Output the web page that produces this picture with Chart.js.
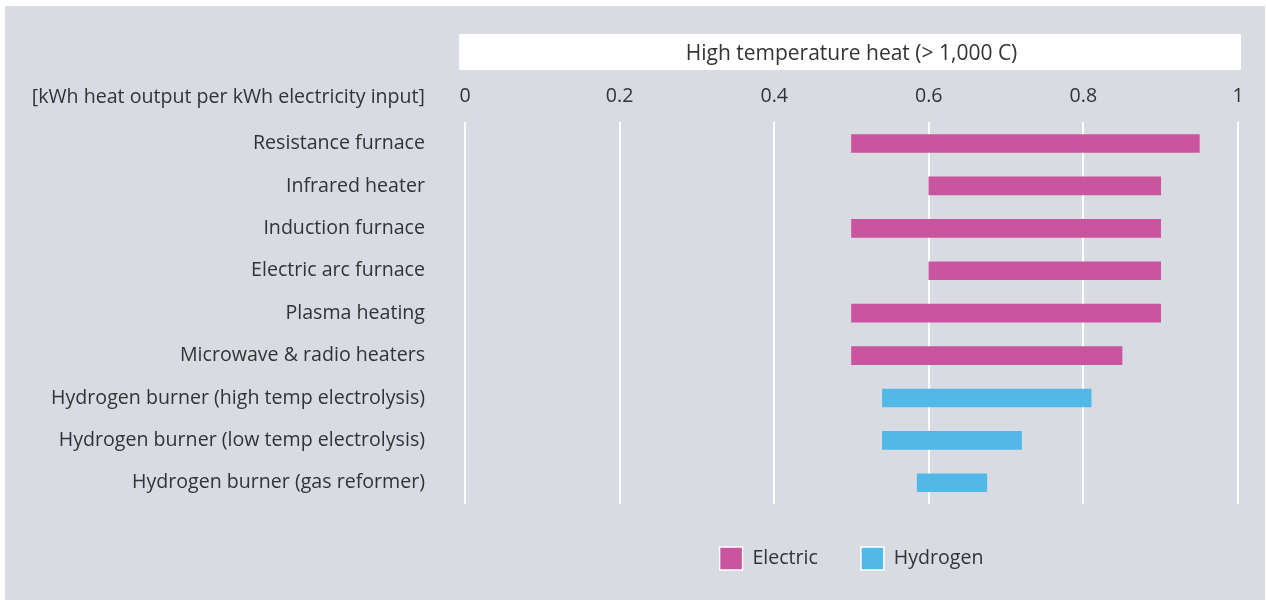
<!DOCTYPE html>
<html><head><meta charset="utf-8">
<script src="https://cdn.jsdelivr.net/npm/chart.js@4.4.1/dist/chart.umd.min.js"></script>
<style>
html,body{margin:0;padding:0;background:#fff;width:1266px;height:600px;overflow:hidden}
#panel{position:absolute;left:5px;top:6px;width:1260px;height:594px;background:#d8dbe2}
#c{position:absolute;left:0;top:0}
</style></head><body>
<div id="panel"></div>
<canvas id="c" width="1266" height="600"></canvas>
<script>
const categories = [
  'Resistance furnace',
  'Infrared heater',
  'Induction furnace',
  'Electric arc furnace',
  'Plasma heating',
  'Microwave & radio heaters',
  'Hydrogen burner (high temp electrolysis)',
  'Hydrogen burner (low temp electrolysis)',
  'Hydrogen burner (gas reformer)'
];
const electricLow  = [0.50, 0.60, 0.50, 0.60, 0.50, 0.50, null, null, null];
const electricHigh = [0.95, 0.90, 0.90, 0.90, 0.90, 0.85, null, null, null];
const hydrogenLow  = [null, null, null, null, null, null, 0.54, 0.54, 0.585];
const hydrogenHigh = [null, null, null, null, null, null, 0.81, 0.72, 0.675];
const xTicks = [0, 0.2, 0.4, 0.6, 0.8, 1];
const seriesNames = ['Electric', 'Hydrogen'];
const titleText = 'High temperature heat (> 1,000 C)';
const unitLabel = '[kWh heat output per kWh electricity input]';

const PINK = '#c9559f', BLUE = '#52b8e8', TEXT = '#333333';
const FONT = 'Open Sans';
const FS = 19.6;

function pairs(lo, hi){ return lo.map((v,i)=> v===null ? null : [v, hi[i]]); }

const titleBgPlugin = {
  id: 'titleBg',
  beforeDraw(chart){
    const t = chart.titleBlock, a = chart.chartArea, ctx = chart.ctx;
    ctx.save();
    ctx.fillStyle = '#ffffff';
    ctx.fillRect(a.left - 6, t.top, (a.right + 3) - (a.left - 6), t.height);
    ctx.restore();
  },
  afterDraw(chart){
    const ctx = chart.ctx, a = chart.chartArea;
    ctx.save();
    ctx.font = FS + 'px "' + FONT + '"';
    ctx.fillStyle = TEXT;
    ctx.textAlign = 'right';
    ctx.textBaseline = 'middle';
    ctx.fillText(unitLabel, a.left - 40, 97);
    ctx.restore();
  }
};

new Chart(document.getElementById('c'), {
  type: 'bar',
  data: {
    labels: categories,
    datasets: [
      { label: seriesNames[0], data: pairs(electricLow, electricHigh), backgroundColor: PINK, borderWidth: 0, grouped: false, barThickness: 18 },
      { label: seriesNames[1], data: pairs(hydrogenLow, hydrogenHigh), backgroundColor: BLUE, borderWidth: 0, grouped: false, barThickness: 18 }
    ]
  },
  options: {
    indexAxis: 'y',
    responsive: false,
    animation: false,
    devicePixelRatio: 1,
    layout: { padding: { left: 0, right: 28, top: 34, bottom: 20 } },
    scales: {
      x: {
        position: 'top', min: 0, max: 1,
        afterBuildTicks(s){ s.ticks = xTicks.map(v => ({ value: v })); },
        afterFit(s){ s.height = 52.3; },
        border: { display: false },
        grid: { color: '#ffffff', lineWidth: 2, drawTicks: false },
        ticks: {
          padding: 14, color: TEXT, font: { family: FONT, size: FS },
          callback: v => String(v)
        }
      },
      y: {
        afterFit(s){ s.width = 465; },
        border: { display: false },
        grid: { display: false, drawTicks: false },
        ticks: { padding: 40, color: TEXT, font: { family: FONT, size: FS } }
      }
    },
    plugins: {
      title: {
        display: true, text: titleText, fullSize: false, color: TEXT,
        font: { family: FONT, size: 21, weight: 'normal', lineHeight: 1.2 },
        padding: { top: 7, bottom: 3.8 }
      },
      legend: {
        position: 'bottom', fullSize: false,
        labels: {
          boxWidth: 23, boxHeight: 23, padding: 43, color: TEXT,
          font: { family: FONT, size: FS },
          generateLabels(chart){
            return chart.data.datasets.map((d,i)=>({
              text: d.label, fillStyle: d.backgroundColor, strokeStyle: '#ffffff',
              lineWidth: 1.5, hidden: false, datasetIndex: i, fontColor: TEXT
            }));
          }
        }
      },
      tooltip: { enabled: false }
    }
  },
  plugins: [titleBgPlugin]
});
</script>
</body></html>
